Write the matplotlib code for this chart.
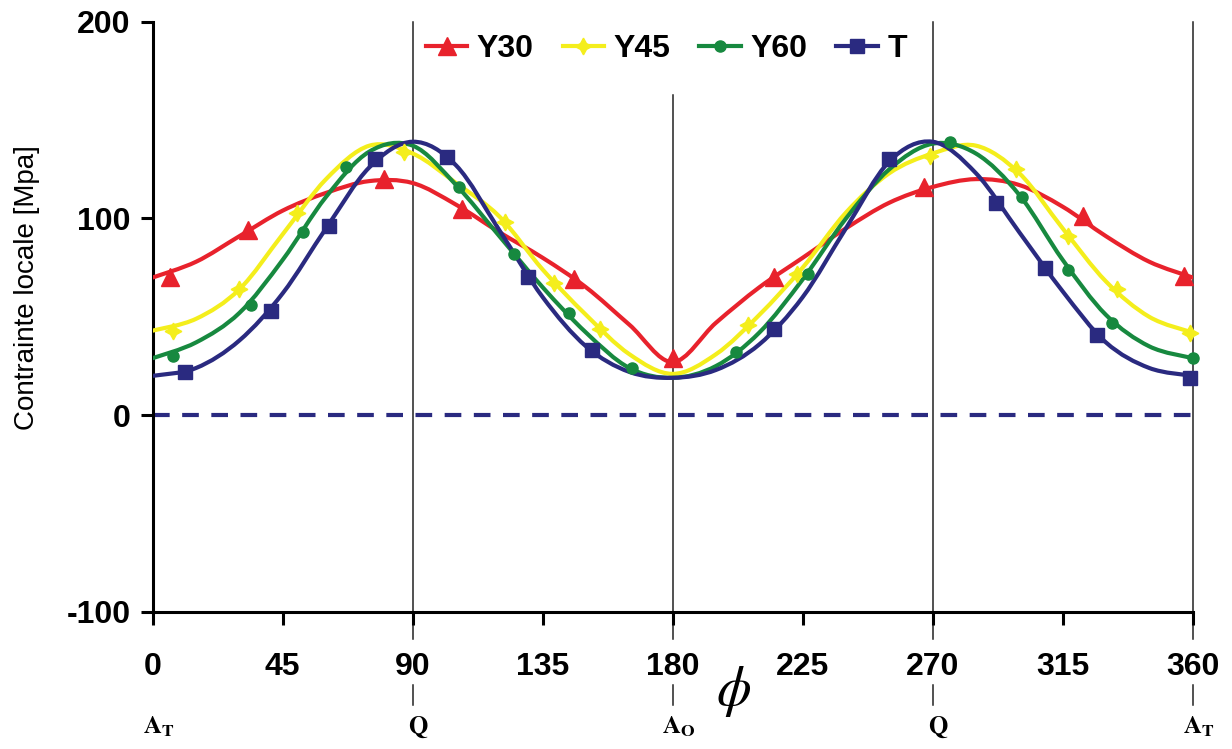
import numpy as np
import matplotlib.pyplot as plt
from matplotlib.path import Path
from matplotlib.patches import PathPatch
from matplotlib.lines import Line2D
import matplotlib.transforms as mtransforms

plt.rcParams['font.family'] = ['Liberation Sans', 'DejaVu Sans']
plt.rcParams['mathtext.fontset'] = 'stix'
plt.rcParams['axes.unicode_minus'] = False

# ---------------- données ----------------
phi = [0, 15, 30, 45, 60, 75, 90, 105, 120, 135, 150, 165, 180,
       195, 210, 225, 240, 255, 270, 285, 300, 315, 330, 345, 360]

y30 = [70, 78, 91, 104, 113, 119, 118, 107, 93, 80, 65, 46, 27,
       47, 65, 80, 95, 108, 116, 120, 117, 106, 91, 78, 70]
y45 = [43, 49, 64, 92, 120, 137, 133, 118, 101, 74, 51, 31, 21,
       31, 51, 75, 103, 123, 133, 137, 123, 95, 68, 50, 42]
y60 = [29, 37, 52, 79, 111, 134, 137, 117, 91, 65, 42, 24, 19,
       25, 42, 69, 100, 125, 138, 133, 112, 79, 51, 35, 29]
t = [20, 24, 38, 62, 95, 126, 139, 127, 94, 60, 35, 22, 19,
     23, 36, 60, 95, 129, 139, 123, 93, 63, 37, 24, 20]

# marqueurs
m30_x = [6, 33, 80, 107, 146, 180, 215, 267, 322, 357]
m30_y = [70, 94, 120, 105, 69, 29, 70, 116, 101, 71]
m45_x = [7, 30, 50, 87, 122, 139, 155, 206, 223, 269, 299, 317, 334, 359]
m45_y = [43, 64, 103, 134, 98, 67, 44, 46, 72, 132, 125, 91, 64, 42]
m60_x = [7, 34, 52, 67, 106, 125, 144, 166, 202, 227, 276, 301, 317, 332, 360]
m60_y = [30, 56, 93, 126, 116, 82, 52, 24, 32, 72, 139, 111, 74, 47, 29]
mt_x = [11, 41, 61, 77, 102, 130, 152, 215, 255, 292, 309, 327, 359]
mt_y = [22, 53, 96, 130, 131, 70, 33, 44, 130, 108, 75, 41, 19]

xticks = [0, 45, 90, 135, 180, 225, 270, 315, 360]
yticks = [-100, 0, 100, 200]
positions = [0, 90, 180, 270, 360]
pos_labels = [r'$\mathbf{A_T}$', r'$\mathbf{Q}$', r'$\mathbf{A_O}$', r'$\mathbf{Q}$', r'$\mathbf{A_T}$']

c30 = '#e8222c'
c45 = '#f4ee1c'
c60 = '#17893f'
ct = '#2a2a80'


# courbe lissée (comme les courbes "lissées" d'Excel)
def courbe(ax, x, y, couleur):
    p = np.column_stack([x, y]).astype(float)
    p = np.vstack([p[0], p, p[-1]])
    verts = [p[1]]
    codes = [Path.MOVETO]
    for i in range(1, len(p) - 2):
        c1 = p[i] + (p[i + 1] - p[i - 1]) / 6.
        c2 = p[i + 1] - (p[i + 2] - p[i]) / 6.
        verts += [c1, c2, p[i + 1]]
        codes += [Path.CURVE4] * 3
    ax.add_patch(PathPatch(Path(verts, codes), fill=False, edgecolor=couleur,
                           lw=3.0, zorder=3, capstyle='round'))


fig = plt.figure(figsize=(12.32, 7.49), dpi=100)
ax = fig.add_axes([0.124, 0.183, 0.844, 0.788])

ax.set_xlim(0, 360)
ax.set_ylim(-100, 200)

# lignes verticales
for p in [90, 270, 360]:
    ax.plot([p, p], [200, -114], color='#222222', lw=1.1, clip_on=False, zorder=1)
ax.plot([180, 180], [163, -114], color='#222222', lw=1.1, clip_on=False, zorder=1)

ax.axhline(0, color=ct, lw=3, dashes=(4, 3), zorder=2)

courbe(ax, phi, y30, c30)
courbe(ax, phi, y45, c45)
courbe(ax, phi, y60, c60)
courbe(ax, phi, t, ct)

ax.plot(m30_x, m30_y, ls='none', marker='^', ms=13, color=c30, zorder=4, clip_on=False)
ax.plot(m45_x, m45_y, ls='none', marker=(4, 1, 0), ms=12, color=c45, zorder=4, clip_on=False)
ax.plot(m60_x, m60_y, ls='none', marker='o', ms=8, color=c60, zorder=4, clip_on=False)
ax.plot(mt_x, mt_y, ls='none', marker='s', ms=10, color=ct, zorder=4, clip_on=False)

for s in ['top', 'right']:
    ax.spines[s].set_visible(False)
for s in ['left', 'bottom']:
    ax.spines[s].set_linewidth(2.2)

ax.set_xticks(xticks)
ax.set_yticks(yticks)
ax.tick_params(axis='x', direction='out', length=9, width=2.2, pad=20, labelsize=23)
ax.tick_params(axis='y', direction='out', length=9, width=2.2, pad=7, labelsize=23)
for lab in ax.get_xticklabels() + ax.get_yticklabels():
    lab.set_fontweight('bold')

ax.set_ylabel('Contrainte locale [Mpa]', fontsize=20)
ax.yaxis.set_label_coords(-0.108, 0.55)

# repères sous l'axe
tr = mtransforms.blended_transform_factory(ax.transData, ax.transAxes)
for p, lab in zip(positions, pos_labels):
    if p != 0:
        ax.plot([p, p], [-0.124, -0.158], color='#222222', lw=1.1, transform=tr, clip_on=False)
    ax.text(p + 2, -0.195, lab, transform=tr, ha='center', va='center', fontsize=18)

ax.text(201, -0.135, r'$\phi$', transform=tr, ha='center', va='center', fontsize=40)

handles = [
    Line2D([], [], color=c30, lw=3, marker='^', ms=13),
    Line2D([], [], color=c45, lw=3, marker=(4, 1, 0), ms=12),
    Line2D([], [], color=c60, lw=3, marker='o', ms=8),
    Line2D([], [], color=ct, lw=3, marker='s', ms=10),
]
leg = ax.legend(handles, ['Y30', 'Y45', 'Y60', 'T'], loc='center', bbox_to_anchor=(0.494, 0.953),
                ncol=4, frameon=False, handlelength=1.3, columnspacing=0.9, handletextpad=0.3,
                prop={'weight': 'bold', 'size': 23})

fig.savefig('out.png', dpi=100)
